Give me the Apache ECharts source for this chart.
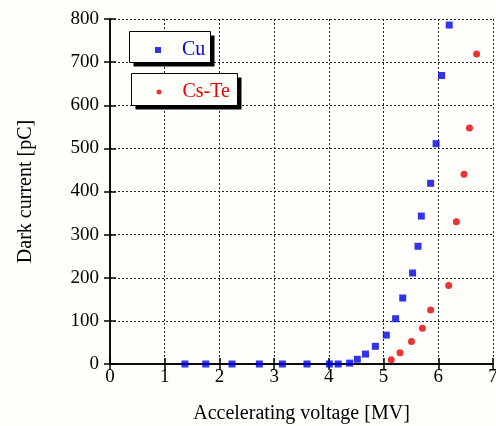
<!DOCTYPE html>
<html>
<head>
<meta charset="utf-8">
<script src="https://cdn.jsdelivr.net/npm/echarts@6/dist/echarts.min.js"></script>
<style>
  html, body { margin: 0; padding: 0; background: #fefefa; }
  #chart { width: 496px; height: 426px; }
</style>
</head>
<body>
<div id="chart"></div>
<script>
// 数据
var cuVoltage = [1.37, 1.75, 2.23, 2.73, 3.15, 3.60, 4.01, 4.17, 4.38, 4.52, 4.67, 4.85, 5.05, 5.22, 5.35, 5.53, 5.63, 5.69, 5.86, 5.96, 6.06, 6.20];
var cuCurrent = [0, 0, 0, 0, 0, 0, 0, 0, 2, 11, 23, 41, 67, 105, 153, 211, 273, 343, 419, 511, 669, 786];
var csVoltage = [5.14, 5.30, 5.51, 5.71, 5.86, 6.19, 6.33, 6.47, 6.57, 6.70];
var csCurrent = [10, 26, 52, 83, 125, 182, 330, 440, 547, 719];

var font = 'Liberation Serif';
var blue = '#0000e6';
var red = '#e60000';

function pairs(xs, ys) {
    return xs.map(function (x, i) { return [x, ys[i]]; });
}

// 图例方框：先画黑色阴影块，再画白底黑框
function legendBox(x, y, w, h) {
    return [
        {
            type: 'rect', z: 3,
            shape: { x: x + 4, y: y + 4, width: w, height: h },
            style: { fill: '#000' }
        },
        {
            type: 'rect', z: 4,
            shape: { x: x, y: y, width: w, height: h },
            style: { fill: '#fefefa', stroke: '#000', lineWidth: 1 }
        }
    ];
}

var gridLine = { show: true, lineStyle: { color: '#222', type: [2, 2], width: 1 } };
var axisLine = { show: true, lineStyle: { color: '#000', width: 1.5 } };
var tick = { show: true, inside: true, length: 6, lineStyle: { color: '#000', width: 1.5 } };

var myChart = echarts.init(document.getElementById('chart'));
var option = {
    backgroundColor: '#fefefa',
    animation: false,
    textStyle: { fontFamily: font },
    grid: { left: 110, top: 19, right: 3, bottom: 62, outerBoundsMode: 'none' },
    graphic: legendBox(129.5, 31.5, 81, 31).concat(legendBox(131.5, 73.5, 106, 32)),
    legend: [
        {
            data: [{ name: 'Cu', textStyle: { color: blue } }],
            left: 155, top: 40, padding: 0,
            itemWidth: 6, itemHeight: 6,
            textStyle: { fontFamily: font, fontSize: 20, padding: [0, 0, 0, 16] },
            selectedMode: false, z: 6
        },
        {
            data: [{ name: 'Cs-Te', textStyle: { color: red } }],
            left: 156.5, top: 82, padding: 0,
            itemWidth: 5, itemHeight: 5,
            textStyle: { fontFamily: font, fontSize: 20, padding: [0, 0, 0, 16] },
            selectedMode: false, z: 6
        }
    ],
    xAxis: [
        {
            type: 'value', min: 0, max: 7, interval: 1,
            name: 'Accelerating voltage [MV]',
            nameLocation: 'middle', nameGap: 40,
            nameTextStyle: { fontFamily: font, fontSize: 20, color: '#000' },
            axisLine: axisLine, axisTick: tick, splitLine: gridLine,
            axisLabel: { fontFamily: font, fontSize: 19, color: '#000', margin: 4 }
        },
        {
            type: 'value', min: 0, max: 7, interval: 1, position: 'top',
            axisLine: axisLine, axisTick: tick, splitLine: { show: false },
            axisLabel: { show: false }
        }
    ],
    yAxis: [
        {
            type: 'value', min: 0, max: 800, interval: 100,
            name: 'Dark current [pC]',
            nameLocation: 'middle', nameGap: 74,
            nameTextStyle: { fontFamily: font, fontSize: 20, color: '#000' },
            axisLine: axisLine, axisTick: tick, splitLine: gridLine,
            axisLabel: { fontFamily: font, fontSize: 19, color: '#000', margin: 11 }
        },
        {
            type: 'value', min: 0, max: 800, interval: 100, position: 'right',
            axisLine: axisLine, axisTick: tick, splitLine: { show: false },
            axisLabel: { show: false }
        }
    ],
    series: [
        {
            name: 'Cu',
            type: 'scatter',
            symbol: 'rect',
            symbolSize: 7,
            itemStyle: { color: blue },
            data: pairs(cuVoltage, cuCurrent),
            clip: false,
            z: 5
        },
        {
            name: 'Cs-Te',
            type: 'scatter',
            symbol: 'circle',
            symbolSize: 7,
            itemStyle: { color: red },
            data: pairs(csVoltage, csCurrent),
            clip: false,
            z: 5
        }
    ]
};
myChart.setOption(option);
</script>
</body>
</html>
